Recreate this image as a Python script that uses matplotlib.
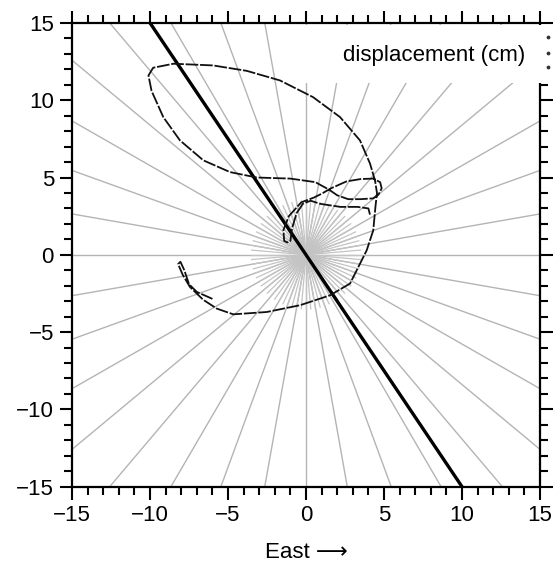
import numpy as np
import matplotlib
matplotlib.use("Agg")
import matplotlib.pyplot as plt
from matplotlib.patches import Rectangle

plt.rcParams['font.family'] = ['Liberation Sans', 'DejaVu Sans']

# particle motion (East, North) in cm
east = [4.1, 4.0, 3.3, 2.2, 0.9, 0.3, -0.2, -0.6, -0.9, -1.0, -1.2, -1.4, -1.45,
        -1.1, -0.3, 0.5, 1.0, 1.6, 2.6, 3.5, 4.3, 4.75, 4.85, 4.65, 4.3, 3.5,
        2.7, 2.0, 1.5, 0.6, -1.0, -3.16, -4.87, -6.58, -8.08, -9.15, -9.9,
        -10.1, -9.8, -8.5, -5.96, -3.8, -1.67, 0.45, 2.18, 3.46, 4.1, 4.42,
        4.55, 4.45, 4.31, 3.89, 3.25, 2.82, 1.54, -0.38, -2.52, -4.66, -5.72,
        -6.6, -7.44, -7.9, -8.2, -8.05, -7.8, -7.5, -7.0, -6.0]
north = [2.6, 3.0, 3.1, 3.1, 3.3, 3.5, 3.3, 2.7, 1.7, 0.9, 0.8, 0.9, 1.6,
         2.5, 3.4, 3.7, 3.95, 4.3, 4.75, 4.9, 4.93, 4.7, 4.3, 3.9, 3.65, 3.6,
         3.6, 3.85, 4.2, 4.7, 4.93, 5.0, 5.35, 6.11, 7.4, 8.91, 10.6,
         11.6, 12.1, 12.36, 12.25, 11.9, 11.28, 10.2, 8.91, 7.4, 5.91, 4.82,
         4.0, 3.1, 1.58, 0.29, -1.0, -1.86, -2.62, -3.26, -3.7, -3.85, -3.48,
         -2.9, -2.08, -1.3, -0.6, -0.45, -1.0, -1.9, -2.4, -2.85]

# polarization direction (thick line)
pol_east = [-10, 10]
pol_north = [15, -15]

# reference rays
ray_angles = np.arange(0, 360, 10)
fine_angles = np.arange(0, 360, 5)
ray_len = 30
fine_len = 3.5

fig = plt.figure(figsize=(5.6, 5.73), dpi=100)
ax = fig.add_axes([0.1286, 0.1506, 0.8357, 0.8094])

for a in ray_angles:
    t = np.radians(a)
    ax.plot([0, ray_len * np.cos(t)], [0, ray_len * np.sin(t)],
            color='#b4b4b4', lw=1.0, zorder=1)
for a in fine_angles:
    t = np.radians(a)
    ax.plot([0, fine_len * np.cos(t)], [0, fine_len * np.sin(t)],
            color='#c4c4c4', lw=0.9, zorder=1)

ax.plot(pol_east, pol_north, color='black', lw=2.4, zorder=3)
ax.plot(east, north, color='#111111', lw=1.3, ls=(0, (7, 1)), zorder=3)

ax.set_xlim(-15, 15)
ax.set_ylim(-15, 15)
ax.set_xticks([-15, -10, -5, 0, 5, 10, 15])
ax.set_yticks([-15, -10, -5, 0, 5, 10, 15])
ax.set_xticks(np.arange(-15, 16, 1), minor=True)
ax.set_yticks(np.arange(-15, 16, 1), minor=True)
ax.tick_params(which='both', direction='out', top=True, right=True,
               labeltop=False, labelright=False, width=1.5, labelsize=16)
ax.tick_params(which='major', length=9, pad=4)
ax.tick_params(which='minor', length=5.5)
for s in ax.spines.values():
    s.set_linewidth(1.6)

ax.set_xlabel('East \u27f6', fontsize=16, labelpad=12)

# legend box covering the upper right corner
box = Rectangle((0.487, 0.870), 0.545, 0.126, transform=ax.transAxes,
                facecolor='white', edgecolor='none', clip_on=False, zorder=4)
ax.add_patch(box)
ax.text(0.968, 0.930, 'displacement (cm)', transform=ax.transAxes,
        ha='right', va='center', fontsize=16, zorder=5)
ax.scatter([1.017, 1.017, 1.017], [0.970, 0.935, 0.905], s=3, color='#333333',
           transform=ax.transAxes, clip_on=False, zorder=5)

fig.savefig('out.png', dpi=100)
